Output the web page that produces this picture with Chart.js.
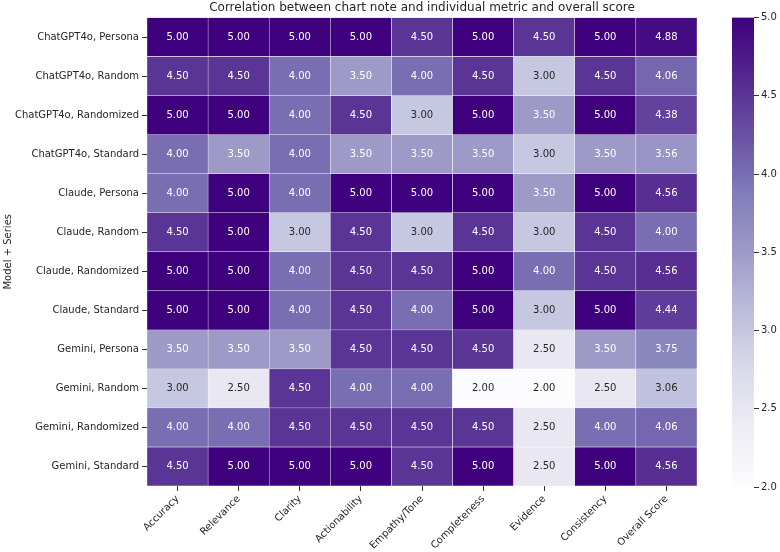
<!DOCTYPE html>
<html>
<head>
<meta charset="utf-8">
<script src="https://cdn.jsdelivr.net/npm/chart.js@4.4.1/dist/chart.umd.min.js"></script>
<style>
    body { margin: 0; background: #fff; }
    #wrap { position: relative; width: 780px; height: 552px; }
    #heatWrap { position: absolute; left: 0; top: 0; width: 720px; height: 552px; }
    #barWrap { position: absolute; left: 700px; top: 0; width: 80px; height: 552px; }
</style>
</head>
<body>
<div id="wrap">
    <div id="heatWrap"><canvas id="heatChart"></canvas></div>
    <div id="barWrap"><canvas id="scaleChart"></canvas></div>
</div>
<script>
// Data
const rowLabels = [
    'ChatGPT4o, Persona', 'ChatGPT4o, Random', 'ChatGPT4o, Randomized', 'ChatGPT4o, Standard',
    'Claude, Persona', 'Claude, Random', 'Claude, Randomized', 'Claude, Standard',
    'Gemini, Persona', 'Gemini, Random', 'Gemini, Randomized', 'Gemini, Standard'
];
const colLabels = [
    'Accuracy', 'Relevance', 'Clarity', 'Actionability', 'Empathy/Tone',
    'Completeness', 'Evidence', 'Consistency', 'Overall Score'
];
const scores = [
    [5.0, 5.0, 5.0, 5.0, 4.5, 5.0, 4.5, 5.0, 4.88],
    [4.5, 4.5, 4.0, 3.5, 4.0, 4.5, 3.0, 4.5, 4.06],
    [5.0, 5.0, 4.0, 4.5, 3.0, 5.0, 3.5, 5.0, 4.38],
    [4.0, 3.5, 4.0, 3.5, 3.5, 3.5, 3.0, 3.5, 3.56],
    [4.0, 5.0, 4.0, 5.0, 5.0, 5.0, 3.5, 5.0, 4.56],
    [4.5, 5.0, 3.0, 4.5, 3.0, 4.5, 3.0, 4.5, 4.00],
    [5.0, 5.0, 4.0, 4.5, 4.5, 5.0, 4.0, 4.5, 4.56],
    [5.0, 5.0, 4.0, 4.5, 4.0, 5.0, 3.0, 5.0, 4.44],
    [3.5, 3.5, 3.5, 4.5, 4.5, 4.5, 2.5, 3.5, 3.75],
    [3.0, 2.5, 4.5, 4.0, 4.0, 2.0, 2.0, 2.5, 3.06],
    [4.0, 4.0, 4.5, 4.5, 4.5, 4.5, 2.5, 4.0, 4.06],
    [4.5, 5.0, 5.0, 5.0, 4.5, 5.0, 2.5, 5.0, 4.56]
];
const scaleMin = 2.0;
const scaleMax = 5.0;
const scaleTicks = [2.0, 2.5, 3.0, 3.5, 4.0, 4.5, 5.0];

// matplotlib "Purples" colour stops
const purples = [
    [252, 251, 253], [239, 237, 245], [218, 218, 235], [188, 189, 220], [158, 154, 200],
    [128, 125, 186], [106, 81, 163], [84, 39, 143], [63, 0, 125]
];

const FONT = 'DejaVu Sans';
const TEXT = '#262626';

const cmap = (v) => {
    let t = (v - scaleMin) / (scaleMax - scaleMin);
    t = Math.max(0, Math.min(1, t)) * (purples.length - 1);
    const i = Math.min(Math.floor(t), purples.length - 2);
    const f = t - i;
    return purples[i].map((c, k) => Math.round(c + (purples[i + 1][k] - c) * f));
};
const rgb = (c) => `rgb(${c[0]},${c[1]},${c[2]})`;
const luminance = (c) => {
    const lin = c.map(x => {
        x = x / 255;
        return x <= 0.03928 ? x / 12.92 : Math.pow((x + 0.055) / 1.055, 2.4);
    });
    return 0.2126 * lin[0] + 0.7152 * lin[1] + 0.0722 * lin[2];
};

// one floating-bar dataset per row
const datasets = rowLabels.map((label, i) => ({
    label: label,
    data: colLabels.map(() => [i, i + 1]),
    values: scores[i],
    backgroundColor: scores[i].map(v => rgb(cmap(v))),
    borderColor: '#ffffff',
    borderWidth: 0.5,
    borderSkipped: false,
    barPercentage: 1,
    categoryPercentage: 1,
    grouped: false,
}));

// Cell annotations
const annotatePlugin = {
    id: 'annotate',
    afterDatasetsDraw(chart) {
        const ctx = chart.ctx;
        ctx.save();
        ctx.font = `10px "${FONT}"`;
        ctx.textAlign = 'center';
        ctx.textBaseline = 'middle';
        chart.data.datasets.forEach((ds, di) => {
            const meta = chart.getDatasetMeta(di);
            meta.data.forEach((bar, j) => {
                const v = ds.values[j];
                ctx.fillStyle = luminance(cmap(v)) > 0.408 ? TEXT : '#ffffff';
                ctx.fillText(v.toFixed(2), bar.x, (bar.y + bar.base) / 2);
            });
        });
        ctx.restore();
    }
};

// Title centred over the heatmap area
const titlePlugin = {
    id: 'heatTitle',
    afterDraw(chart) {
        const { ctx, chartArea } = chart;
        ctx.save();
        ctx.font = `12px "${FONT}"`;
        ctx.fillStyle = TEXT;
        ctx.textAlign = 'center';
        ctx.textBaseline = 'middle';
        ctx.fillText('Correlation between chart note and individual metric and overall score',
            (chartArea.left + chartArea.right) / 2, 8);
        ctx.restore();
    }
};

document.addEventListener('DOMContentLoaded', function () {
    new Chart(document.getElementById('heatChart').getContext('2d'), {
        type: 'bar',
        data: { labels: colLabels, datasets: datasets },
        options: {
            responsive: true,
            maintainAspectRatio: false,
            animation: false,
            layout: { padding: { top: 17.5, right: 23, left: 0, bottom: 0 } },
            plugins: {
                legend: { display: false },
                tooltip: { enabled: false },
                title: { display: false },
            },
            scales: {
                x: {
                    type: 'category',
                    offset: true,
                    afterFit(scale) { scale.height = 66; },
                    border: { display: false },
                    grid: { drawOnChartArea: false, drawTicks: true, tickLength: 5, offset: false, color: '#333' },
                    ticks: {
                        minRotation: 45, maxRotation: 45, autoSkip: false, padding: 2,
                        color: TEXT, font: { family: FONT, size: 10 },
                    },
                },
                y: {
                    type: 'linear',
                    min: 0,
                    max: rowLabels.length,
                    reverse: true,
                    afterFit(scale) { scale.width = 147; },
                    afterBuildTicks(scale) {
                        scale.ticks = rowLabels.map((l, i) => ({ value: i + 0.5 }));
                    },
                    border: { display: false },
                    grid: { drawOnChartArea: false, drawTicks: true, tickLength: 5, color: '#333' },
                    ticks: {
                        padding: 3, color: TEXT, font: { family: FONT, size: 10 },
                        callback: (value) => rowLabels[Math.floor(value)],
                    },
                    title: {
                        display: true, text: 'Model + Series', color: TEXT,
                        font: { family: FONT, size: 10 }, padding: { top: 2, bottom: 0 },
                    },
                },
            },
        },
        plugins: [annotatePlugin, titlePlugin],
    });

    // Colour scale bar
    new Chart(document.getElementById('scaleChart').getContext('2d'), {
        type: 'bar',
        data: {
            labels: [''],
            datasets: [{
                data: [[scaleMin, scaleMax]],
                backgroundColor(context) {
                    const area = context.chart.chartArea;
                    if (!area) return rgb(purples[4]);
                    const g = context.chart.ctx.createLinearGradient(0, area.bottom, 0, area.top);
                    purples.forEach((c, i) => g.addColorStop(i / (purples.length - 1), rgb(c)));
                    return g;
                },
                borderWidth: 0,
                barPercentage: 1,
                categoryPercentage: 1,
            }],
        },
        options: {
            responsive: true,
            maintainAspectRatio: false,
            animation: false,
            layout: { padding: { top: 17.5, left: 32, right: 0, bottom: 65 } },
            plugins: { legend: { display: false }, tooltip: { enabled: false } },
            scales: {
                x: { display: false },
                y: {
                    position: 'right',
                    min: scaleMin,
                    max: scaleMax,
                    afterFit(scale) { scale.width = 26; },
                    afterBuildTicks(scale) {
                        scale.ticks = scaleTicks.map(v => ({ value: v }));
                    },
                    border: { display: false },
                    grid: { drawOnChartArea: false, drawTicks: true, tickLength: 5, color: '#333' },
                    ticks: {
                        padding: 2, color: TEXT, font: { family: FONT, size: 10 },
                        callback: (v) => v.toFixed(1),
                    },
                },
            },
        },
    });
});
</script>
</body>
</html>
